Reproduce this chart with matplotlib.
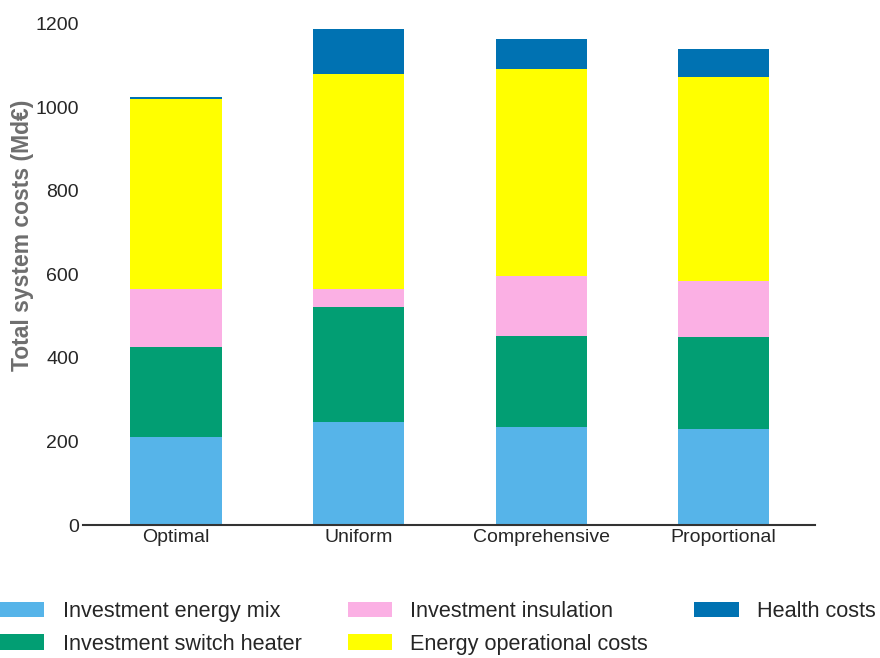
#!/usr/bin/env python3
import matplotlib
matplotlib.use("Agg")
import matplotlib.pyplot as plt
import numpy as np

plt.rcParams['font.family'] = ['Liberation Sans', 'DejaVu Sans']

scenarios = ["Optimal", "Uniform", "Comprehensive", "Proportional"]
components = ["Investment energy mix", "Investment switch heater",
              "Investment insulation", "Energy operational costs", "Health costs"]
colors = ["#56B4E9", "#029E73", "#FBB0E4", "#FFFF00", "#0072B2"]

# values, Md€
energy_mix = [211, 247, 235, 230]
switch_heater = [215, 275, 218, 220]
insulation = [139, 43, 144, 134]
energy_operational = [455, 513, 495, 489]
health = [3, 108, 72, 65]

series = [energy_mix, switch_heater, insulation, energy_operational, health]

fig = plt.figure(figsize=(8.8, 6.58), dpi=100)
ax = fig.add_axes([83/880, 1-525/658, (815-83)/880, (525-23.5)/658])

x = np.arange(len(scenarios))
bottom = np.zeros(len(scenarios))
for name, vals, col in zip(components, series, colors):
    ax.bar(x, vals, width=0.5, bottom=bottom, color=col, label=name)
    bottom += np.array(vals)

ax.set_xlim(-0.51, 3.5)
ax.set_ylim(0, 1200)
ax.set_yticks(range(0, 1201, 200))
ax.set_xticks(x)
ax.set_xticklabels(scenarios)
ax.tick_params(axis="both", length=0, labelsize=14, labelcolor="#262626")
ax.tick_params(axis="y", pad=3)
ax.tick_params(axis="x", pad=3)

for s in ["top", "right", "left"]:
    ax.spines[s].set_visible(False)
ax.spines["bottom"].set_color("#333333")
ax.spines["bottom"].set_linewidth(1.5)

ax.set_ylabel("Total system costs (Md€)", fontsize=16.5, fontweight="bold",
              color="#6e6e6e")
ax.yaxis.set_label_coords(-0.067, 0.578)

fig.legend(loc="upper left", bbox_to_anchor=(0.0, 1-601/658), ncol=3,
           frameon=False, fontsize=15.6, handlelength=2.05, handleheight=0.75,
           handletextpad=0.85, columnspacing=2.12, labelspacing=0.55,
           borderpad=0, borderaxespad=0, labelcolor="#262626")

fig.savefig("out.png", dpi=100)
